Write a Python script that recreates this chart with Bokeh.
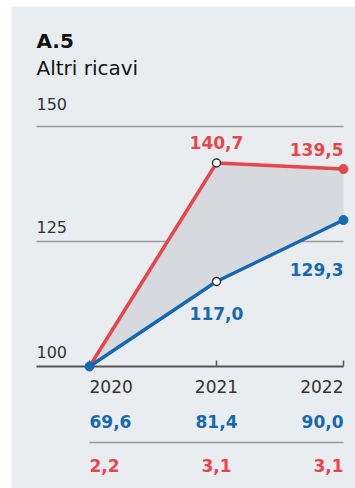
from bokeh.plotting import figure
from bokeh.models import ColumnDataSource, Range1d
from bokeh.core.properties import value
from bokeh.embed import file_html
from bokeh.resources import INLINE

# ---- data ----
years = [2020, 2021, 2022]
year_labels = ["2020", "2021", "2022"]
index_red = [100.0, 140.7, 139.5]
index_blue = [100.0, 117.0, 129.3]
table_blue = [69.6, 81.4, 90.0]
table_red = [2.2, 3.1, 3.1]
grid_values = [100, 125, 148]
grid_labels = ["100", "125", "150"]
title_code = "A.5"
title_text = "Altri ricavi"

def fmt(v):
    return f"{v:.1f}".replace(".", ",")

# ---- style ----
PANEL = "#e9edf0"
FILL = "#d6dade"
RED = "#e6474c"
BLUE = "#1568b1"
TXT = "#333333"
GRID = "#9a9a9a"
FONT = "DejaVu Sans"

W, H = 344, 482
PX_YEAR = 127.0
PX_UNIT = 5.0
SH = 6.5 / PX_UNIT  # text baseline correction
x0 = 2020 - 78 / PX_YEAR
y0 = 100 - 122 / PX_UNIT

p = figure(width=W, height=H, output_backend="svg", toolbar_location=None,
           x_axis_type=None, y_axis_type=None,
           x_range=Range1d(x0, x0 + W / PX_YEAR),
           y_range=Range1d(y0, y0 + H / PX_UNIT),
           min_border=0, outline_line_color=None,
           background_fill_color=PANEL, border_fill_color=PANEL)
p.margin = (6, 0, 0, 11)
p.xgrid.visible = False
p.ygrid.visible = False

left_x = 2020 - 53 / PX_YEAR  # left edge of gridlines / labels

# gridlines (100 is the axis line)
p.segment(x0=[left_x] * 2, x1=[years[-1]] * 2, y0=grid_values[1:], y1=grid_values[1:],
          line_color=GRID, line_width=1.6)
p.text(x=[left_x] * 3, y=[v + 1.7 + SH for v in grid_values[:2]] + [151.2 + SH], text=grid_labels,
       text_font=value(FONT), text_font_size="16px", text_color=TXT,
       text_baseline="alphabetic", text_align="left")

# title
p.text(x=[left_x], y=[163.8 + SH], text=[title_code], text_font=value(FONT),
       text_font_size="20px", text_font_style="bold", text_color="#111111",
       text_baseline="alphabetic")
p.text(x=[left_x], y=[158.4 + SH], text=[title_text], text_font=value(FONT),
       text_font_size="20px", text_color="#111111", text_baseline="alphabetic")

# area between series
p.varea(x=years, y1=index_blue, y2=index_red, fill_color=FILL)

# axis line and ticks
p.segment(x0=[left_x], x1=[years[-1]], y0=[100], y1=[100], line_color="#555555", line_width=1.8)
p.segment(x0=years, x1=years, y0=[100] * 3, y1=[100 + 6 / PX_UNIT] * 3,
          line_color="#555555", line_width=1.5)

# lines
p.line(years, index_red, line_color=RED, line_width=3.5)
p.line(years, index_blue, line_color=BLUE, line_width=3.5)

# markers
p.scatter([years[2]], [index_red[2]], size=9, fill_color=RED, line_color=RED)
p.scatter([years[0], years[2]], [index_blue[0], index_blue[2]], size=9,
          fill_color=BLUE, line_color=BLUE)
p.scatter([years[1]] * 2, [index_red[1], index_blue[1]], size=8,
          fill_color="white", line_color="#333333", line_width=1.5)

# value labels on lines
lab = dict(text_baseline="alphabetic", text_font=value(FONT),
           text_font_size="17px", text_font_style="bold")
p.text(x=[years[1]], y=[index_red[1]], text=[fmt(index_red[1])], y_offset=-20.5,
       text_align="center", text_color=RED, **lab)
p.text(x=[years[2]], y=[index_red[2]], text=[fmt(index_red[2])], y_offset=-19.5,
       text_align="right", text_color=RED, **lab)
p.text(x=[years[1]], y=[index_blue[1]], text=[fmt(index_blue[1])], y_offset=31.5,
       text_align="center", text_color=BLUE, **lab)
p.text(x=[years[2]], y=[index_blue[2]], text=[fmt(index_blue[2])], y_offset=49,
       text_align="right", text_color=BLUE, **lab)

# table below axis
aligns = ["left", "center", "right"]
src = ColumnDataSource(dict(x=years, yl=year_labels,
                            tb=[fmt(v) for v in table_blue],
                            tr=[fmt(v) for v in table_red], al=aligns))
p.text(x="x", y=94.8 + SH, text="yl", text_align="al", source=src, text_baseline="alphabetic",
       text_font=value(FONT), text_font_size="17px", text_color=TXT)
p.text(x="x", y=87.7 + SH, text="tb", text_align="al", source=src, text_color=BLUE, **lab)
p.segment(x0=[years[0]], x1=[years[-1]], y0=[84.8], y1=[84.8], line_color=GRID, line_width=1.6)
p.text(x="x", y=78.9 + SH, text="tr", text_align="al", source=src, text_color=RED, **lab)

open("out.html", "w").write(file_html(p, INLINE))
